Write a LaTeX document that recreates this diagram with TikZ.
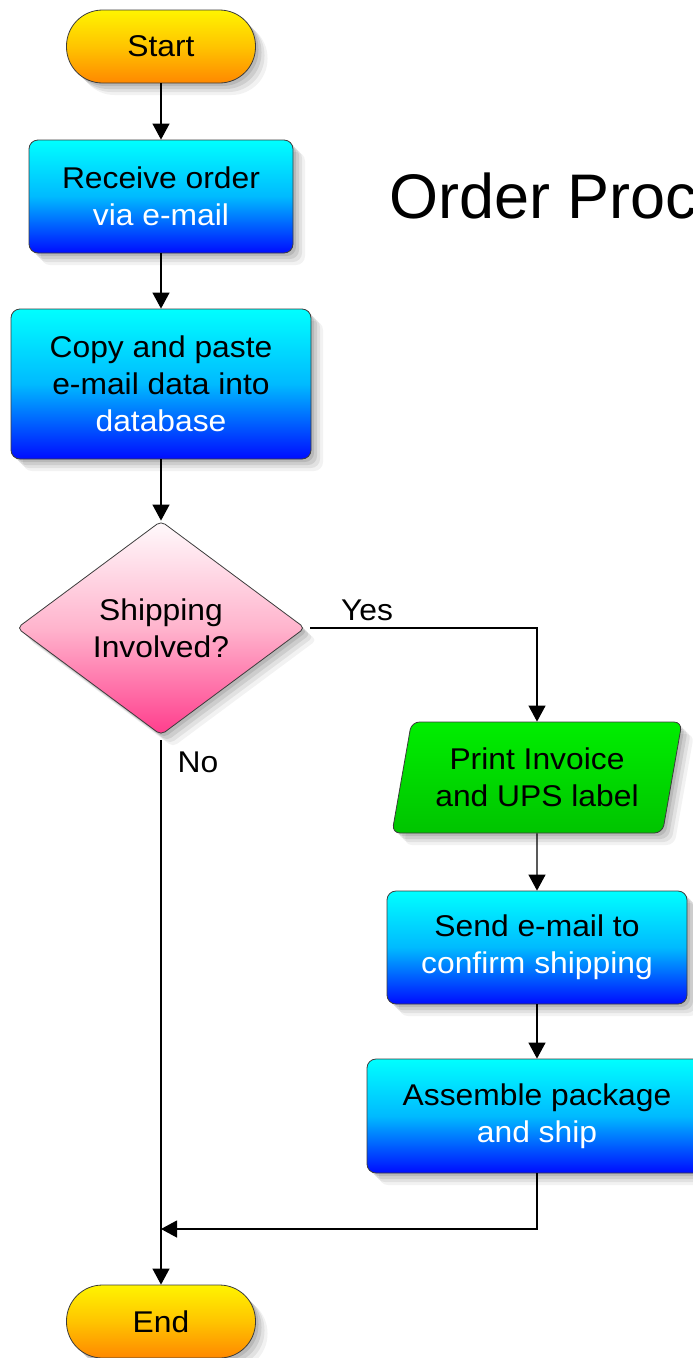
\documentclass[tikz,border=0pt]{standalone}
\usepackage{fontspec}
\setmainfont{Liberation Sans}[FakeStretch=1.06]
\newfontfamily\titlefont{Liberation Sans}
\usetikzlibrary{shapes.geometric,shadows,arrows.meta}

\definecolor{termtop}{RGB}{255,244,0}
\definecolor{termmid}{RGB}{255,196,0}
\definecolor{termbot}{RGB}{255,136,0}
\definecolor{boxtop}{RGB}{0,255,255}
\definecolor{boxmid}{RGB}{0,186,255}
\definecolor{boxbot}{RGB}{0,12,255}
\definecolor{dectop}{RGB}{255,250,252}
\definecolor{decmid}{RGB}{255,180,205}
\definecolor{decbot}{RGB}{255,60,140}
\definecolor{iotop}{RGB}{0,238,0}
\definecolor{iobot}{RGB}{0,196,0}
\definecolor{edge}{RGB}{60,60,60}

\tikzset{
  x=1pt, y=-1pt,
  every node/.style={font=\fontsize{30}{37}\selectfont},
  softshadow/.style={
    drop shadow={shadow xshift=12pt, shadow yshift=-12pt, opacity=0.05, fill=black},
    drop shadow={shadow xshift=9pt, shadow yshift=-9pt, opacity=0.07, fill=black},
    drop shadow={shadow xshift=6pt, shadow yshift=-6pt, opacity=0.09, fill=black},
    drop shadow={shadow xshift=3pt, shadow yshift=-3pt, opacity=0.10, fill=black}},
  terminal/.style={draw=edge, line width=0.8pt, rounded corners=36pt,
    minimum width=189pt, minimum height=73pt, inner sep=0pt,
    top color=termtop, bottom color=termbot, middle color=termmid, softshadow},
  procbox/.style={draw=edge, line width=0.8pt, rounded corners=9pt,
    inner sep=0pt, align=center,
    top color=boxtop, bottom color=boxbot, middle color=boxmid, softshadow},
  decision/.style={diamond, draw=edge, line width=0.8pt, rounded corners=5pt,
    aspect=1.35, inner sep=0pt, minimum width=288pt, minimum height=214pt,
    align=center, top color=dectop, bottom color=decbot, middle color=decmid,
    softshadow},
  iobox/.style={trapezium, trapezium left angle=75, trapezium right angle=105,
    trapezium stretches=true, draw=edge, line width=0.8pt, rounded corners=8pt,
    minimum width=291pt, minimum height=111pt, inner sep=0pt, align=center,
    top color=iotop, bottom color=iobot, softshadow},
  flow/.style={draw=black, line width=1.2pt, -{Triangle[width=17pt,length=16pt]}},
  lbl/.style={inner sep=0pt}
}

\begin{document}
\begin{tikzpicture}
\useasboundingbox (0,0) rectangle (693,1358);
\clip (0,0) rectangle (693,1358);

% heading
\node[font=\titlefont\fontsize{63}{70}\selectfont, anchor=base west, inner sep=0pt]
  (title) at (389,218) {Order Processing};

% left column
\node[terminal] (start) at (161,46.5) {Start};
\node[procbox, minimum width=264pt, minimum height=113pt] (recv) at (161,196.5)
  {Receive order\\\color{white}via e-mail};
\node[procbox, minimum width=300pt, minimum height=150pt] (copy) at (161,384)
  {Copy and paste\\e-mail data into\\\color{white}database};
\node[decision] (ship) at (161,628) {Shipping\\Involved?};
\node[terminal] (end) at (161,1321.5) {End};

% right column
\node[iobox] (inv) at (537,777.5) {Print Invoice\\and UPS label};
\node[procbox, minimum width=300pt, minimum height=113pt] (send) at (537,947.5)
  {Send e-mail to\\\color{white}confirm shipping};
\node[procbox, minimum width=340pt, minimum height=114pt] (asm) at (537,1116)
  {Assemble package\\\color{white}and ship};

% connectors
\draw[flow] (start.south) -- (recv.north);
\draw[flow] (recv.south) -- (copy.north);
\draw[flow] (copy.south) -- (ship.north);
\draw[flow, shorten <=5pt] (ship.east) -| (inv.north);
\draw[flow] (inv.south) -- (send.north);
\draw[flow] (send.south) -- (asm.north);
\draw[flow, shorten <=5pt] (ship.south) -- (end.north);
\coordinate (merge) at (161,1229);
\draw[flow] (asm.south) |- (merge);

% branch labels
\node[lbl] (yes) at (367,610) {Yes};
\node[lbl] (no) at (198,762) {No};
\end{tikzpicture}
\end{document}
